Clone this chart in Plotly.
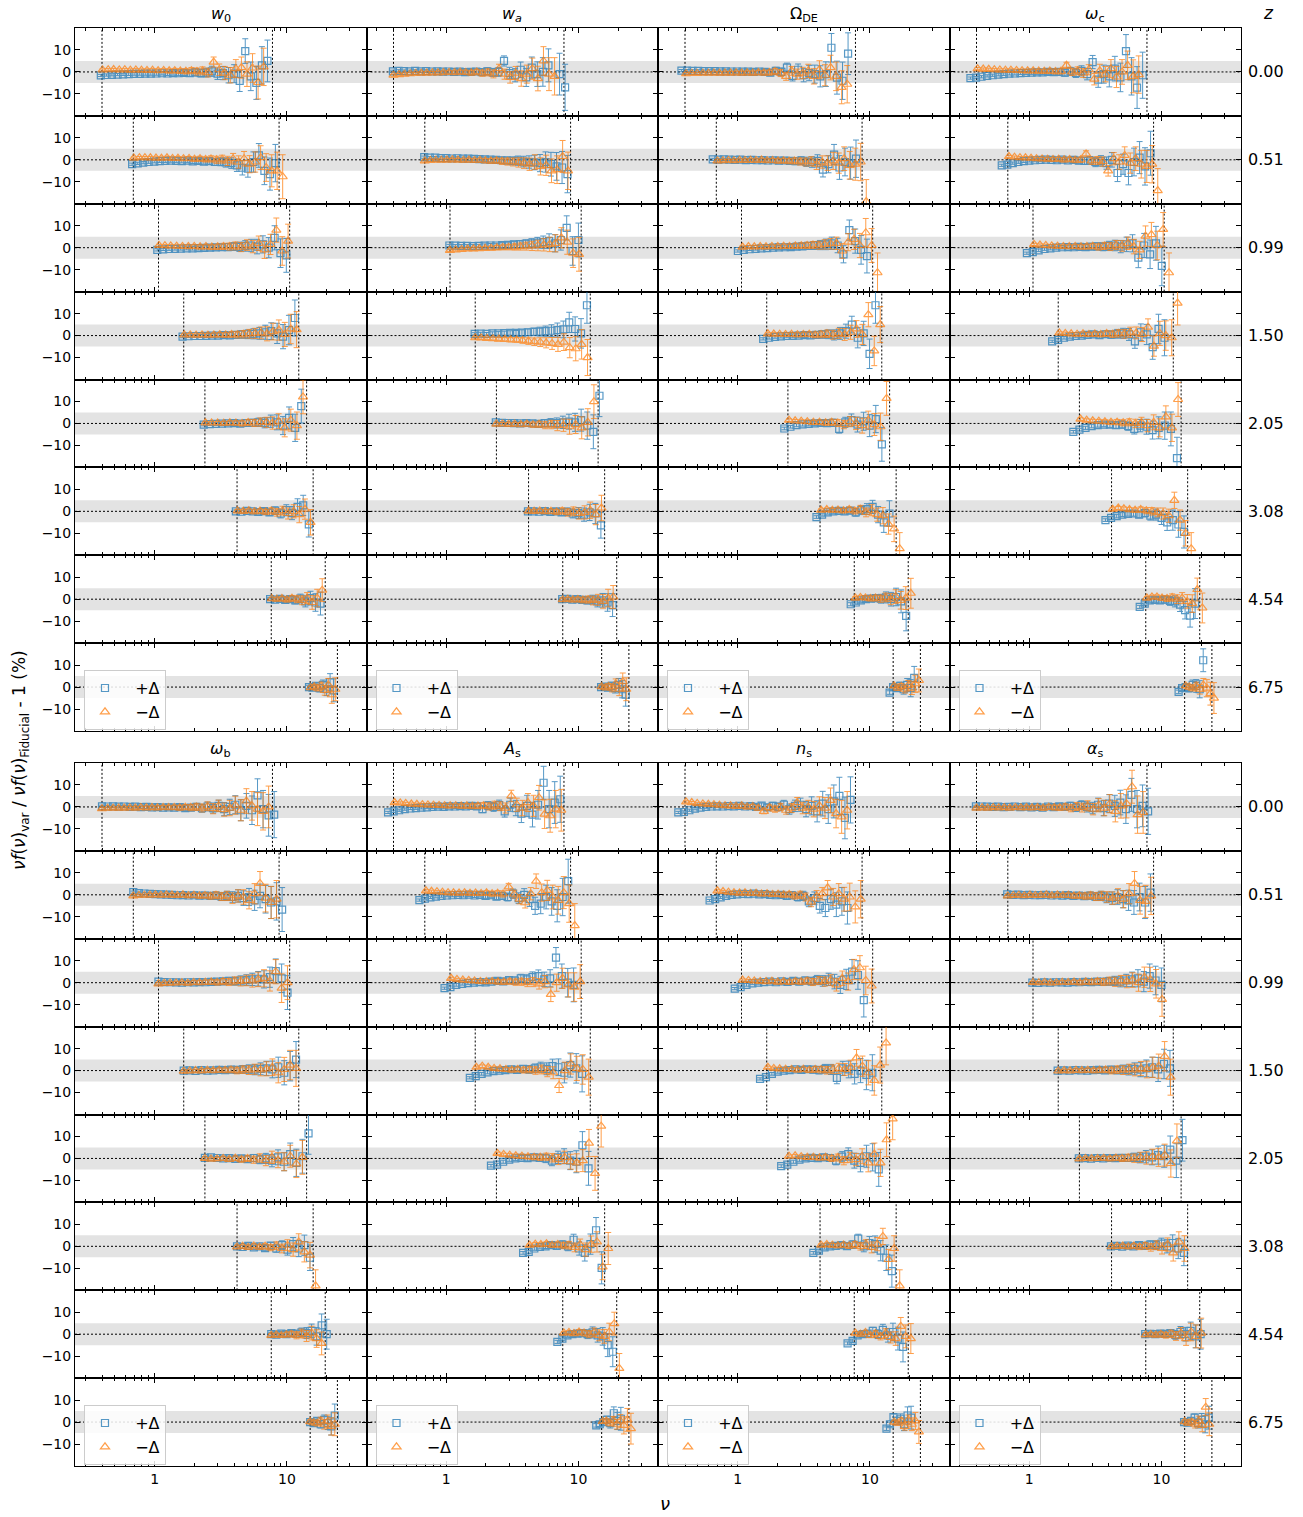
import math
import plotly.graph_objects as go

# ---------------- data ----------------
z_labels = ["0.00", "0.51", "0.99", "1.50", "2.05", "3.08", "4.54", "6.75"]
nu_lo = [0.40, 0.69, 1.07, 1.66, 2.40, 4.20, 7.62, 15.0]
nu_hi = [7.78, 8.73, 10.5, 12.3, 14.1, 15.8, 19.5, 24.1]

nu_r0 = [0.400, 0.441, 0.485, 0.535, 0.589, 0.649, 0.714, 0.787, 0.867, 0.955, 1.052, 1.159, 1.276, 1.406, 1.549, 1.706,
         1.879, 2.070, 2.280, 2.512, 2.767, 3.048, 3.357, 3.698, 4.074, 4.487, 4.943, 5.445, 5.998, 6.607, 7.278, 8.017]
nu_r1 = [0.690, 0.760, 0.836, 0.920, 1.014, 1.115, 1.228, 1.352, 1.486, 1.637, 1.803, 1.982, 2.183, 2.404, 2.642, 2.911,
         3.206, 3.524, 3.882, 4.276, 4.699, 5.176, 5.702, 6.266, 6.902, 7.603, 8.356, 9.204]
nu_r2 = [1.069, 1.184, 1.311, 1.453, 1.608, 1.781, 1.973, 2.185, 2.420, 2.680, 2.969, 3.288, 3.641, 4.033, 4.466, 4.946,
         5.478, 6.067, 6.719, 7.441, 8.241, 9.129, 10.11, 11.20]
nu_r3 = [1.660, 1.840, 2.039, 2.260, 2.505, 2.777, 3.078, 3.411, 3.781, 4.191, 4.645, 5.148, 5.706, 6.325, 7.010, 7.770,
         8.612, 9.548, 10.58, 11.73, 13.00]
nu_r4 = [2.399, 2.668, 2.966, 3.298, 3.668, 4.078, 4.535, 5.043, 5.608, 6.236, 6.934, 7.711, 8.574, 9.535, 10.60, 11.79,
         13.11, 14.58]
nu_r5 = [4.198, 4.628, 5.104, 5.627, 6.203, 6.843, 7.544, 8.318, 9.172, 10.11, 11.15, 12.29, 13.56, 14.95, 16.48]
nu_r6 = [7.621, 8.319, 9.082, 9.915, 10.82, 11.82, 12.90, 14.08, 15.38, 16.79, 18.32, 20.00]
nu_r7 = [15.00, 15.94, 16.95, 18.02, 19.16, 20.37, 21.65, 23.02, 24.48]

err_r0 = [0.5, 0.5, 0.5, 0.5, 0.5, 0.6, 0.6, 0.6, 0.7, 0.7, 0.8, 0.8, 0.9, 1.0, 1.1, 1.2, 1.4, 1.6, 1.8, 2.0, 2.3, 2.6,
          3.0, 3.5, 4.1, 4.8, 5.6, 6.5, 7.5, 8.5, 9.5, 10.5]
err_r1 = [0.5, 0.5, 0.5, 0.6, 0.6, 0.6, 0.7, 0.7, 0.8, 0.8, 0.9, 1.0, 1.1, 1.2, 1.4, 1.6, 1.8, 2.1, 2.4, 2.8, 3.3, 3.9,
          4.6, 5.4, 6.3, 7.3, 8.5, 10.0]
err_r2 = [0.5, 0.5, 0.6, 0.6, 0.7, 0.7, 0.8, 0.9, 1.0, 1.1, 1.2, 1.4, 1.6, 1.8, 2.1, 2.4, 2.8, 3.3, 3.9, 4.6, 5.5, 6.5,
          7.7, 9.0]
err_r3 = [0.5, 0.6, 0.6, 0.7, 0.8, 0.9, 1.0, 1.1, 1.3, 1.5, 1.7, 2.0, 2.3, 2.7, 3.2, 3.8, 4.6, 5.5, 6.7, 8.2, 10.0]
err_r4 = [0.6, 0.6, 0.7, 0.8, 0.9, 1.0, 1.2, 1.4, 1.6, 1.9, 2.3, 2.8, 3.4, 4.1, 5.0, 6.2, 7.7, 9.5]
err_r5 = [0.6, 0.7, 0.8, 0.9, 1.0, 1.2, 1.4, 1.7, 2.0, 2.5, 3.0, 3.7, 4.6, 5.8, 7.3]
err_r6 = [0.7, 0.8, 0.9, 1.1, 1.3, 1.6, 2.0, 2.5, 3.1, 4.0, 5.2, 6.8]
err_r7 = [0.8, 1.0, 1.3, 1.7, 2.2, 2.9, 3.9, 5.2, 7.0]

N = None
w0_plus = [
    [-1.6, -1.4, -1.3, -1.2, -1.1, -1.0, -0.9, -0.9, -0.8, -0.8, -0.7, -0.6, -0.7, -0.5, -0.6, -0.4, -0.6, -0.2, -0.5, -0.3, 0.3, -0.8, -0.5, -1.5, -0.8, -4.1, 9.5, -2.0, -5.0, 3.0, 5.0, N],
    [-2.0, -1.6, -1.3, -1.0, -0.8, -0.6, -0.5, -0.4, -0.5, -0.6, -0.4, -0.7, -0.5, -0.8, -0.6, -1.0, -0.9, -1.2, -1.5, -2.5, -3.6, -4.0, -1.0, 2.0, -5.0, -6.5, -1.5, N],
    [-1.0, -0.8, -0.6, -0.5, -0.4, -0.3, -0.3, -0.2, -0.1, 0.0, 0.1, 0.2, 0.3, 0.5, 0.4, 0.8, 1.0, 0.5, 1.5, 0.0, 4.5, -2.5, -3.5, N],
    [-0.5, -0.3, -0.2, -0.2, -0.1, 0.0, 0.0, 0.2, 0.1, 0.3, 0.5, 0.6, 0.8, 1.0, 1.5, 2.0, 1.0, -0.5, 2.5, 8.0, N],
    [-0.5, -0.3, -0.2, -0.1, 0.0, 0.1, -0.1, 0.2, 0.3, 0.5, 0.3, 1.0, 0.5, -1.0, 2.5, -2.0, 7.9, N],
    [0.0, -0.2, 0.2, 0.0, -0.3, 0.1, -0.5, 0.3, -1.0, 0.5, -0.8, 2.0, 2.7, -5.9, N],
    [0.0, -0.2, 0.1, -0.3, 0.0, -0.5, 0.3, -1.0, 0.5, -1.5, -2.0, N],
    [0.0, -0.3, 0.5, -0.5, 1.0, -1.0, 2.2, -1.5, N],
]
w0_minus = [
    [0.9, 1.0, 1.1, 0.9, 1.0, 0.8, 0.9, 0.8, 0.7, 0.8, 0.6, 0.7, 0.5, 0.6, 0.4, 0.3, 0.6, 0.2, 0.5, -0.3, 4.5, 1.0, -0.5, -1.5, 1.5, 2.0, -1.0, 1.8, -4.8, 2.3, N, N],
    [0.8, 1.0, 1.0, 0.9, 0.8, 0.7, 0.9, 0.6, 0.7, 0.5, 0.6, 0.3, 0.5, 0.2, 0.4, 0.0, 0.3, -0.5, 0.5, -1.0, 0.5, -2.0, -1.0, 1.0, -3.5, -5.0, -5.0, -7.7],
    [1.0, 0.9, 0.8, 0.7, 0.6, 0.5, 0.6, 0.4, 0.5, 0.3, 0.4, 0.6, 0.5, 0.8, 0.3, 1.2, 0.5, 2.0, -1.0, 1.5, 8.0, -1.5, 3.0, N],
    [0.3, 0.3, 0.2, 0.3, 0.2, 0.3, 0.4, 0.3, 0.5, 0.4, 0.6, 0.8, 1.0, 1.2, 0.8, 1.8, 2.5, 0.5, 3.0, 2.7, N],
    [0.3, 0.2, 0.2, 0.1, 0.3, 0.2, 0.0, 0.4, 0.2, 0.6, 0.5, 0.2, 1.0, -2.0, 1.5, -1.0, 12.1, N],
    [0.2, 0.0, 0.3, -0.2, 0.1, -0.3, 0.2, -0.5, 0.3, -1.0, 0.0, -1.5, 1.0, -5.0, N],
    [0.2, 0.0, 0.3, -0.2, 0.4, 0.0, -0.5, 0.5, -1.5, 0.5, 4.1, N],
    [-0.3, 0.2, -0.5, 0.5, -1.5, 1.0, -3.5, -1.0, N],
]
wa_plus = [
    [0.3, 0.5, 0.4, 0.3, 0.5, 0.3, 0.4, 0.2, 0.3, 0.1, 0.2, 0.0, 0.1, -0.1, 0.0, 0.2, -0.1, 0.3, -0.2, 0.0, 5.0, -0.5, -1.5, 1.0, -2.5, 2.0, -1.0, 0.0, 3.0, N, -1.0, -7.0],
    [1.2, 1.0, 1.0, 0.8, 0.8, 0.6, 0.7, 0.5, 0.5, 0.4, 0.3, 0.2, 0.1, 0.0, -0.2, -0.3, -0.5, -0.4, -0.8, -1.0, -1.2, -1.5, -1.0, -2.0, -3.0, -3.5, -6.5, N],
    [1.0, 0.9, 0.8, 0.8, 0.7, 0.8, 0.9, 1.0, 1.0, 1.2, 1.3, 1.5, 1.6, 1.8, 2.0, 2.3, 2.5, 3.0, 2.0, 3.5, 9.0, -1.5, 3.5, N],
    [0.8, 0.9, 0.8, 1.0, 1.0, 1.1, 1.2, 1.2, 1.3, 1.5, 1.7, 1.8, 2.0, 2.2, 2.5, 2.8, 6.0, 3.0, 1.0, 13.8, N],
    [0.5, 0.3, 0.2, 0.1, 0.0, 0.2, 0.0, -0.2, 0.1, 0.3, 0.2, 0.5, 0.8, 0.5, 1.5, -1.0, -3.8, 12.6],
    [0.0, 0.0, -0.2, 0.1, -0.3, 0.0, -0.5, -0.2, -1.0, -0.8, -1.5, -0.5, -1.0, -6.4, N],
    [0.0, 0.1, -0.2, 0.0, -0.3, -0.5, -0.2, -1.0, -0.5, -1.5, -2.7, N],
    [0.0, 0.2, -0.3, 0.5, -0.5, 1.0, -1.0, -3.5, N],
]
wa_minus = [
    [-1.5, -1.2, -1.0, -0.8, -0.7, -0.6, -0.5, -0.4, -0.4, -0.3, -0.2, -0.3, -0.1, -0.2, -0.4, 0.0, -0.6, -0.2, -0.9, 1.5, -1.0, -2.5, -0.5, -3.0, -1.0, 1.5, -3.0, 5.0, -1.0, -2.0, N, N],
    [-0.5, -0.3, -0.2, -0.2, -0.1, 0.0, -0.1, -0.2, -0.1, -0.3, -0.2, -0.4, -0.5, -0.4, -0.7, -0.8, -1.0, -1.2, -1.5, -2.0, -1.0, -3.0, -2.5, -5.0, -4.5, 1.5, -5.0, N],
    [-1.2, -1.0, -0.8, -0.6, -0.5, -0.4, -0.3, -0.2, 0.0, 0.1, 0.2, 0.3, 0.5, 0.7, 0.8, 1.0, 1.3, 1.5, 2.0, 4.5, 2.5, -2.5, -3.0, N],
    [-1.0, -1.1, -1.3, -1.4, -1.6, -1.7, -1.9, -2.0, -2.2, -2.5, -2.8, -3.0, -3.3, -3.6, -4.0, -3.0, -5.5, -6.0, -4.0, -10.0, N],
    [-0.3, -0.2, -0.4, -0.3, -0.5, -0.3, -0.6, -0.4, -0.8, -0.5, -1.0, -0.8, -1.5, -0.5, -2.0, 0.5, 9.9, N],
    [0.1, 0.0, 0.2, -0.1, 0.0, -0.3, 0.2, -0.5, 0.0, -1.0, -0.5, 0.5, -1.5, 1.5, N],
    [-0.2, 0.0, -0.3, -0.1, -0.4, -0.2, -0.6, -0.3, -1.0, 0.5, 1.0, N],
    [0.2, -0.3, 0.3, -0.5, 1.5, -1.0, 2.5, -1.0, N],
]
ode_plus = [
    [0.6, 0.6, 0.5, 0.5, 0.4, 0.4, 0.4, 0.3, 0.3, 0.2, 0.2, 0.1, 0.1, 0.0, 0.2, 0.0, -0.3, 0.5, 0.0, 2.0, -1.8, 1.0, -1.5, -0.5, -1.0, -2.0, -1.0, 11.0, -2.6, -4.0, 8.3, N],
    [0.2, 0.1, 0.2, 0.1, 0.0, 0.1, -0.1, 0.0, -0.2, -0.1, -0.3, -0.2, -0.4, -0.3, -0.5, -0.6, -0.4, -0.9, -1.0, -0.5, -4.5, -2.0, 2.4, -3.5, -1.0, -1.5, 0.5, N],
    [-1.5, -1.0, -0.7, -0.5, -0.3, -0.2, 0.0, 0.1, 0.2, 0.3, 0.5, 0.6, 0.8, 1.0, 1.2, 1.5, 2.0, 1.0, -3.0, 8.0, 3.0, -1.0, -3.8, N],
    [-1.5, -1.0, -0.6, -0.4, -0.2, -0.1, 0.0, 0.2, 0.1, 0.3, 0.5, 0.6, 0.3, 1.0, 2.0, 5.0, -1.0, 1.0, -8.3, 13.8, N],
    [-2.3, -1.5, -0.8, -0.4, -0.2, 0.0, 0.2, 0.1, 0.3, -2.5, 0.5, 1.5, -0.5, 1.0, -1.0, 2.0, -9.5, N],
    [-2.6, -1.5, -0.5, 0.0, 0.2, 0.0, 0.3, -0.5, 0.5, 1.0, 2.0, -1.5, -5.0, -1.0, N],
    [-2.3, -1.5, -0.5, 0.0, 0.3, 0.5, 0.2, 0.8, 0.0, 1.0, -1.0, -7.6],
    [-2.5, 0.0, -0.5, 0.5, -1.0, 1.0, -0.5, 4.2, N],
]
ode_minus = [
    [-0.8, -0.7, -0.7, -0.6, -0.6, -0.5, -0.6, -0.5, -0.5, -0.4, -0.5, -0.4, -0.5, -0.3, -0.4, -0.3, 0.2, -0.5, -2.0, 0.5, -1.0, -0.5, 0.5, -2.0, 1.0, -1.5, 2.0, -2.0, -7.0, -5.6, N, N],
    [-0.5, -0.4, -0.3, -0.4, -0.2, -0.3, -0.2, -0.3, -0.1, -0.4, -0.3, -0.5, -0.4, -0.6, -0.5, -0.8, -1.0, -0.7, -2.0, -1.0, -1.5, -0.5, -1.5, 0.5, -2.5, -2.0, -1.0, -19.0],
    [0.3, 0.5, 0.4, 0.5, 0.4, 0.6, 0.5, 0.7, 0.6, 0.8, 0.9, 1.0, 1.2, 1.1, 1.5, 1.8, 2.0, -1.5, 2.5, 3.8, 1.0, 6.8, 1.0, -11.4],
    [0.8, 0.7, 0.6, 0.5, 0.6, 0.4, 0.5, 0.6, 0.3, 0.5, 0.8, 0.4, 1.0, 0.5, 1.5, 3.0, 0.5, 9.5, -7.0, 5.0, N],
    [1.5, 1.2, 1.0, 0.8, 0.5, 0.6, 0.3, 0.5, 0.2, -0.5, 0.8, 0.0, -1.0, 1.5, -0.5, -1.5, 11.4, N],
    [0.5, 0.8, 0.5, 0.6, 0.3, 0.8, 0.2, 1.0, -0.5, 0.5, -1.5, -2.0, -5.8, -8.0, -17.0],
    [0.5, 0.8, 0.6, 0.3, 0.5, 0.2, 0.8, 0.0, 1.2, -0.5, 0.5, 2.7],
    [0.5, -0.5, 0.3, -1.0, 0.8, -0.5, 1.5, 3.0, N],
]
omc_plus = [
    [-2.8, -2.6, -2.2, -1.8, -1.5, -1.2, -1.0, -0.8, -0.7, -0.5, -0.4, -0.3, -0.2, -0.2, 0.0, -0.1, 0.0, -0.3, 0.3, -0.5, 0.5, -1.0, 4.5, -3.5, -1.0, -2.0, 1.5, -2.5, 9.5, -2.0, -7.1, -1.5],
    [-2.5, -2.2, -1.5, -1.0, -0.6, -0.4, -0.2, 0.0, 0.1, 0.0, -0.2, 0.1, -0.3, 0.0, -0.4, -0.5, -0.3, -1.0, -0.5, -1.5, 0.0, -6.0, -2.0, -6.0, -1.0, 1.0, -3.0, 3.0],
    [-2.5, -2.0, -1.2, -0.6, -0.3, 0.0, 0.2, 0.3, 0.2, 0.4, 0.3, 0.5, 0.6, 0.4, 0.8, 1.0, 0.5, 1.5, 2.0, -4.5, 1.0, -3.0, 2.0, -8.3],
    [-2.6, -2.0, -1.0, -0.5, -0.2, 0.0, 0.3, 0.5, 0.2, 0.6, 0.4, 0.8, 1.0, 0.5, -2.6, 1.5, 0.5, -5.3, 3.0, -1.0, N],
    [-3.8, -2.8, -2.0, -1.2, -0.8, -0.5, -0.6, -0.8, -0.5, -1.2, -2.5, -1.0, -1.5, -3.0, -2.0, -1.0, -2.5, -15.8],
    [-4.0, -3.0, -2.2, -1.5, -1.2, -1.0, -1.5, -0.8, -2.0, -1.5, -3.0, -5.0, -4.0, -6.0, -9.4],
    [-3.5, -2.0, -0.5, -0.3, -0.5, -0.2, -0.8, -1.0, -2.5, -5.0, -7.5, -2.0],
    [-2.2, -0.5, 0.0, -0.5, 1.0, 0.5, -1.0, 12.2, N],
]
omc_minus = [
    [1.5, 1.3, 1.2, 1.0, 0.9, 0.8, 0.8, 0.7, 0.6, 0.5, 0.5, 0.4, 0.3, 0.4, 0.2, 0.3, 3.0, 0.0, 0.5, -0.5, 1.0, -3.3, 0.5, -1.0, 1.5, -2.3, 0.0, 3.0, -2.0, -1.2, N, N],
    [1.5, 1.2, 1.0, 0.9, 0.7, 0.5, 0.4, 0.3, 0.2, 0.3, 0.0, 0.2, -0.2, 0.0, 2.7, -0.5, -0.3, -0.8, -5.0, 0.5, -1.0, 2.0, -1.5, 0.5, -2.0, -3.0, -2.0, -14.0],
    [1.5, 1.2, 1.0, 0.8, 0.7, 0.6, 0.5, 0.6, 0.4, 0.5, 0.7, 0.3, 0.8, 0.5, 1.2, 0.8, 2.0, 0.5, -1.0, 5.3, 6.0, 1.0, 8.3, -11.4],
    [1.2, 1.0, 0.8, 0.6, 0.8, 0.5, 0.7, 0.5, 0.9, 0.6, 1.0, 0.8, 1.5, 1.2, 0.5, 3.8, -4.8, 1.0, 0.0, -1.0, 14.8],
    [2.0, 1.5, 1.2, 1.0, 0.8, 0.5, 0.6, 0.3, 0.5, 0.0, 0.5, -1.0, 0.5, -2.0, 3.0, -2.0, 10.9, N],
    [1.0, 1.5, 1.2, 0.8, 0.5, 0.8, 0.3, 0.0, -0.5, -1.0, -2.0, 5.0, -4.0, -10.0, -17.0],
    [0.5, 1.0, 1.0, 0.5, 0.3, 0.8, 0.0, 0.5, -1.0, -2.0, 4.4, -4.0],
    [0.5, 0.0, -0.5, 0.5, -1.0, 1.0, -0.5, -3.0, -5.0],
]
omb_plus = [
    [0.3, 0.2, 0.3, 0.1, 0.2, 0.0, 0.1, -0.1, 0.0, -0.2, -0.1, -0.3, -0.2, -0.3, -0.1, -0.5, -0.3, 0.0, -0.6, 0.2, -0.5, 0.5, -1.0, 0.0, 1.0, -1.5, 0.5, -1.5, 5.3, -1.0, -3.8, -3.5],
    [1.2, 0.8, 0.6, 0.4, 0.3, 0.2, 0.1, 0.0, -0.2, -0.1, -0.3, -0.2, -0.4, -0.3, -0.5, -0.4, -0.8, -0.5, -1.0, -0.5, -1.5, -1.0, -2.5, -0.5, -2.0, -3.5, -3.0, -6.7],
    [0.5, 0.3, 0.2, 0.1, 0.0, 0.2, 0.1, 0.3, 0.2, 0.4, 0.5, 0.6, 0.8, 0.7, 1.0, 1.2, 1.5, 1.8, 1.5, 2.5, 5.3, 2.0, -4.5, N],
    [0.0, 0.1, -0.1, 0.2, 0.0, 0.1, 0.3, 0.2, 0.4, 0.3, 0.5, 0.6, 0.4, 0.8, 1.0, 0.5, 1.5, -1.0, 2.0, 5.0, N],
    [0.3, 0.5, 0.2, 0.0, 0.1, -0.2, 0.0, -0.3, 0.2, -0.5, 0.0, -1.0, 0.5, -1.5, 2.0, -2.0, 1.0, 11.4],
    [0.0, -0.3, 0.2, -0.5, 0.0, -0.8, 0.3, -1.0, 0.5, -1.5, 1.0, -1.0, 0.5, -5.2, N],
    [0.0, -0.2, 0.3, 0.0, 0.5, 0.2, 0.8, 0.5, 1.5, -1.0, 4.0, 0.0],
    [0.0, -0.5, 0.5, -1.0, 1.0, -0.5, -2.0, 3.0, N],
]
omb_minus = [
    [-0.8, -0.6, -0.6, -0.5, -0.5, -0.4, -0.5, -0.3, -0.4, -0.3, -0.4, -0.2, -0.3, -0.2, -0.4, -0.1, -0.3, 0.0, -0.5, 0.3, -0.8, 0.5, -1.2, -0.5, 0.8, -1.5, 2.7, 0.5, -1.0, -2.0, 0.0, N],
    [-0.5, -0.3, -0.2, -0.1, 0.0, -0.2, 0.0, -0.1, -0.3, 0.0, -0.4, -0.2, -0.5, -0.3, -0.6, -0.2, -0.8, -0.5, -1.5, -0.5, -1.0, -2.5, 0.5, 5.2, -1.5, -3.5, -2.0, N],
    [-0.5, -0.3, -0.2, -0.1, 0.0, -0.2, 0.1, 0.0, 0.2, 0.3, 0.1, 0.5, 0.3, 0.8, 0.6, 1.0, 0.8, 1.5, 2.0, 0.8, 5.0, -2.5, 0.0, N],
    [-0.3, -0.2, 0.0, -0.1, 0.1, 0.0, 0.2, 0.1, 0.3, 0.0, 0.4, 0.2, 0.6, 0.3, 0.8, 1.5, -1.0, 0.5, 2.5, 1.0, N],
    [0.0, -0.3, -0.2, 0.0, -0.4, 0.1, -0.5, 0.0, -0.6, 0.2, -1.0, 0.5, -0.8, -1.5, 1.0, -2.5, 0.5, N],
    [-0.3, 0.0, -0.5, 0.2, -0.4, 0.0, -0.6, 0.3, -1.0, 0.5, -1.5, 2.0, -2.5, -4.0, -18.0],
    [-0.5, -0.3, -0.6, -0.2, 0.0, -0.5, 0.3, -0.8, 0.5, -2.0, -4.2, N],
    [0.2, -0.3, -0.5, 0.5, -1.0, 0.3, -2.0, -1.0, N],
]
As_plus = [
    [-2.5, -2.0, -1.5, -1.0, -0.7, -0.5, -0.3, -0.2, 0.0, 0.1, 0.0, 0.3, 0.2, 0.4, 0.2, 0.5, 0.3, -1.0, 0.6, 0.0, 0.8, -2.0, 1.0, -0.5, -3.0, 0.5, -3.5, 1.0, 11.0, -1.0, 2.0, 3.5],
    [-2.4, -1.8, -1.2, -0.8, -0.5, -0.3, -0.2, 0.0, -0.2, 0.1, -0.3, 0.0, -0.5, -0.2, -0.8, -0.5, -1.0, 0.5, -1.5, 0.0, -2.0, -5.0, -4.0, -1.0, -3.0, -5.0, -1.0, 6.2],
    [-2.5, -2.0, -1.0, -0.5, -0.2, 0.0, 0.3, 0.1, 0.5, 0.8, 0.6, 1.2, 1.0, 2.0, 1.5, 2.5, 3.0, 1.5, 2.0, 11.4, 3.0, 0.0, -1.0, N],
    [-3.3, -2.5, -1.5, -0.8, -0.3, 0.0, 0.2, 0.5, 0.3, 0.8, 0.5, 1.0, 1.5, 0.8, 2.0, 1.5, -1.0, 2.5, 1.0, -1.5, N],
    [-3.3, -2.8, -1.5, -0.5, 0.0, 0.3, 0.1, 0.5, 0.3, 0.0, -1.0, 0.5, 1.0, -1.0, -1.5, 6.0, -4.5, N],
    [-3.0, -2.5, -1.0, -0.3, 0.0, 0.5, 0.2, 0.8, 0.0, 3.0, -1.0, -3.0, 1.0, 7.3, -9.8],
    [-3.5, -2.0, -0.5, 0.0, 0.3, 0.5, 0.0, 0.8, -0.5, -1.0, -5.0, -8.0],
    [-1.5, -1.0, 0.0, 1.0, -0.5, 4.0, 0.5, 1.5, N],
]
As_minus = [
    [2.0, 1.8, 1.6, 1.3, 1.2, 1.0, 0.9, 0.8, 0.7, 0.6, 0.5, 0.6, 0.4, 0.5, 0.3, 0.4, 0.6, 0.2, 0.8, 0.3, -0.5, 5.0, 1.0, -0.5, 2.0, 0.5, 4.2, -3.3, -4.0, -1.0, -1.5, N],
    [1.8, 1.6, 1.4, 1.2, 1.0, 0.9, 0.8, 1.0, 0.7, 0.8, 0.6, 0.9, 0.5, 0.7, 0.4, 3.6, 0.3, -2.0, -3.6, 0.5, 6.2, 1.0, 2.0, -1.0, -2.5, 1.0, -4.0, -14.0],
    [2.0, 1.5, 1.2, 1.0, 0.8, 0.6, 0.5, 0.6, 0.4, 0.3, 0.5, 0.2, 0.4, 0.0, 0.3, -0.5, 0.5, -5.3, 0.0, 2.0, -1.0, -2.0, 0.5, N],
    [1.5, 2.0, 1.5, 1.0, 0.8, 0.5, 0.3, 0.5, 0.2, 0.4, 0.0, 0.5, -0.5, -1.0, -6.8, 0.0, 3.0, 1.0, 0.5, -3.0, N],
    [2.3, 1.8, 1.5, 1.2, 1.0, 0.8, 0.6, 0.5, 0.8, 0.3, -0.5, 0.5, -1.5, -2.0, -1.0, 7.0, -6.8, 14.7],
    [0.5, 1.0, 0.8, 1.2, 0.5, 0.8, 0.3, 0.5, -0.5, 0.8, -1.5, 1.0, 2.0, -9.4, -1.0],
    [0.5, 0.8, 0.3, 1.0, 0.5, 0.0, 0.8, -0.5, -1.0, 1.0, 4.8, -15.6],
    [0.3, 0.5, -0.5, 0.8, -1.0, 0.5, -1.5, 1.0, -3.0],
]
ns_plus = [
    [-2.5, -2.3, -1.5, -0.8, -0.3, 0.0, 0.2, 0.3, 0.2, 0.4, 0.3, 0.5, 0.2, 0.4, 0.0, 0.6, -0.2, 0.5, 0.0, 1.0, -1.0, 0.5, 1.0, -1.0, 0.5, -2.0, 1.5, -1.0, 2.5, 5.0, -5.0, 3.2],
    [-2.6, -2.0, -1.2, -0.5, 0.0, 0.2, 0.4, 0.3, 0.5, 0.2, 0.3, 0.0, -0.2, 0.0, -0.5, -0.2, -1.0, -0.5, -3.0, -1.5, -5.0, -6.0, -2.0, -4.5, -3.0, -6.0, N, N],
    [-2.7, -2.0, -1.0, -0.3, 0.0, 0.3, 0.5, 0.2, 0.6, 0.4, 0.8, 0.5, 1.0, 0.7, 1.2, 0.8, 1.5, 0.5, -1.0, 1.5, 5.0, 3.5, -7.9, N],
    [-3.8, -3.0, -1.5, -0.5, 0.0, 0.2, 0.5, 0.3, 0.6, 0.4, 0.2, 0.8, 0.5, -3.3, 1.0, 0.5, -1.5, 0.0, -2.0, -1.0, N],
    [-3.5, -2.8, -1.5, -0.5, 0.0, 0.3, 0.1, 0.5, 0.2, -1.0, 0.8, 2.0, -1.0, -2.0, 1.0, 0.5, -5.0, N],
    [-3.0, -2.0, -0.5, 0.0, 0.2, 0.5, 0.1, 0.8, 3.5, 0.0, 1.5, 1.0, -2.0, -5.2, -11.3],
    [-4.2, -3.0, -0.5, 0.0, 0.3, 1.5, 0.0, 2.0, -0.5, 1.0, -2.0, -5.8],
    [-3.0, -1.0, 2.3, 0.5, 1.5, -1.0, 3.0, 2.0, N],
]
ns_minus = [
    [2.3, 2.0, 1.6, 1.4, 1.2, 1.0, 0.8, 0.6, 0.5, 0.3, 0.5, 0.0, 0.2, -0.5, -2.0, -0.3, -1.0, 0.0, -1.5, -0.5, 2.0, -0.5, 0.0, -1.0, 0.5, -0.5, 3.0, -3.0, -4.5, -1.5, N, N],
    [1.8, 1.5, 1.2, 1.0, 0.8, 0.9, 0.6, 0.7, 0.4, 0.5, 0.2, 0.3, 0.0, 0.2, -0.5, 0.0, -1.0, -3.3, -0.5, 0.5, 3.2, -1.0, 0.5, -2.0, -1.0, -5.5, -2.0, N],
    [1.2, 1.0, 0.8, 0.6, 0.5, 0.7, 0.3, 0.5, 0.2, 0.6, 0.4, 0.8, 0.3, 1.0, 0.5, 1.2, -1.0, 2.0, 0.5, 6.0, 6.8, 1.0, -1.5, N],
    [1.5, 1.0, 0.8, 0.6, 0.5, 0.3, 0.6, 0.2, 0.5, 0.4, 0.1, 0.6, 1.0, 0.5, 1.5, 5.8, 2.0, -1.0, -4.5, 2.5, 12.6],
    [1.0, 1.2, 0.8, 0.5, 0.6, 0.3, 0.5, 0.0, 0.4, -1.0, 0.5, -0.5, 1.0, -2.0, 2.0, -2.0, 8.5, 18.0],
    [0.5, 0.8, 0.5, 0.3, 0.6, 0.2, 0.8, 0.0, 1.0, -0.5, 1.0, 4.5, -6.0, -1.0, -18.0],
    [0.5, 0.0, 0.8, -0.5, 0.3, -1.0, 0.5, -1.5, -2.0, 3.6, -1.0, -2.0],
    [0.0, -0.5, 0.5, -2.0, 1.0, -1.0, 0.5, -4.5, N],
]
alphas_plus = [
    [0.3, 0.2, 0.1, 0.0, 0.1, -0.1, 0.0, 0.2, -0.1, 0.1, -0.2, 0.0, -0.3, 0.2, -0.1, 0.3, 0.0, 0.5, -0.3, 0.8, 0.0, -0.5, 1.0, -0.5, 1.5, 0.5, 2.0, -1.0, 5.5, -1.0, 0.5, -2.0],
    [0.2, 0.0, 0.1, -0.1, 0.0, -0.2, -0.1, 0.0, -0.3, -0.2, -0.4, -0.1, -0.5, -0.3, -0.6, -0.4, -0.8, -0.5, -1.2, -1.5, -1.0, -2.0, -2.5, -3.5, -1.0, -3.5, 1.0, N],
    [0.0, -0.1, 0.1, 0.0, 0.2, 0.1, 0.0, 0.3, 0.2, 0.4, 0.3, 0.5, 0.4, 0.6, 0.8, 0.5, 1.0, 1.5, 2.0, 0.5, 3.0, 1.0, -1.0, N],
    [0.0, 0.1, 0.0, 0.2, 0.1, 0.0, 0.2, 0.3, 0.1, 0.4, 0.2, 0.5, 0.3, 0.8, 0.4, 1.0, 1.5, 0.5, 3.0, 1.0, N],
    [0.0, 0.1, -0.1, 0.2, 0.0, 0.2, 0.1, 0.3, 0.2, 0.5, 0.3, 0.8, 0.5, 1.5, 1.0, 4.0, -1.0, 8.3],
    [0.0, 0.2, -0.1, 0.3, 0.0, 0.5, 0.2, 0.8, 0.5, 1.2, 0.0, 1.5, -1.0, -3.0, N],
    [0.0, 0.2, 0.0, 0.3, 0.1, 0.5, -0.3, 1.0, 0.0, 1.5, -1.0, 0.0],
    [0.0, -0.3, 0.5, 2.0, -0.5, 1.0, -1.0, 2.0, N],
]
alphas_minus = [
    [-0.5, -0.4, -0.5, -0.3, -0.4, -0.3, -0.5, -0.2, -0.4, -0.3, -0.4, -0.2, -0.5, -0.1, -0.3, -0.4, 0.0, -0.6, 0.2, -0.3, 0.5, -1.0, 0.8, -0.5, 1.5, -2.0, 0.5, 1.5, 9.2, -3.5, -2.5, N],
    [-0.5, -0.3, -0.2, -0.4, -0.1, -0.3, -0.2, 0.0, -0.4, -0.1, -0.3, -0.2, -0.5, -0.4, -0.6, -0.3, -0.8, -0.5, -1.0, -1.5, -0.5, -2.0, 0.5, 5.2, -2.5, -3.0, -0.5, N],
    [0.1, 0.0, 0.2, -0.1, 0.0, 0.2, 0.1, 0.3, 0.0, 0.4, 0.2, 0.5, 0.3, 0.7, 0.4, 0.9, 0.5, 1.2, 0.0, 2.5, 1.5, -0.5, -7.6, N],
    [-0.2, 0.0, -0.1, 0.1, 0.0, 0.2, 0.0, 0.1, 0.3, 0.0, 0.4, 0.2, 0.6, 0.3, 0.9, 0.5, 1.5, 2.0, 6.5, -3.0, N],
    [-0.2, 0.0, -0.1, 0.0, 0.1, -0.1, 0.2, 0.0, 0.3, 0.1, 0.5, 0.2, 0.8, 0.5, 1.5, -2.3, 8.0, N],
    [-0.2, 0.0, 0.1, -0.2, 0.2, -0.3, 0.3, -0.5, 0.5, -1.0, 0.8, -3.0, 2.0, -1.0, N],
    [-0.3, -0.1, -0.4, 0.0, -0.5, 0.2, -0.8, 0.5, -2.0, 1.0, -1.0, 0.5],
    [0.2, -0.5, 0.0, -1.0, 0.5, -1.5, 6.8, -1.0, N],
]

# shift of the varied-cosmology nu relative to the fiducial bins (+Delta, -Delta)
shift_plus = [0.98, 0.99, 0.94, 0.90, 1.00, 0.91, 0.89, 0.99]
shift_minus = [1.01, 1.00, 1.02, 1.02, 1.00, 1.02, 1.02, 1.00]

param_titles = ["<i>w</i><sub>0</sub>", "<i>w</i><sub><i>a</i></sub>", "Ω<sub>DE</sub>", "<i>ω</i><sub>c</sub>",
                "<i>ω</i><sub>b</sub>", "<i>A</i><sub>s</sub>", "<i>n</i><sub>s</sub>", "<i>α</i><sub>s</sub>"]
plus_sets = [w0_plus, wa_plus, ode_plus, omc_plus, omb_plus, As_plus, ns_plus, alphas_plus]
minus_sets = [w0_minus, wa_minus, ode_minus, omc_minus, omb_minus, As_minus, ns_minus, alphas_minus]
nu_rows = [nu_r0, nu_r1, nu_r2, nu_r3, nu_r4, nu_r5, nu_r6, nu_r7]
err_rows = [err_r0, err_r1, err_r2, err_r3, err_r4, err_r5, err_r6, err_r7]

# ---------------- layout geometry ----------------
W, H = 1303, 1517
X0, X1, Y0, Y1 = 75, 1241, 28, 1466          # plot area in pixels
ML, MT, MR, MB = X0, Y0, W - X1, H - Y1
PW, PH = X1 - X0, Y1 - Y0
COLW = PW / 4.0
ROWH = 87.875
BLOCK_TOP = [28, 763]
FONT = "DejaVu Sans"
BLUE = "#1f77b4"
ORANGE = "#ff7f0e"
NBSP = "\u00a0"


def xp(px):
    return (px - X0) / PW


def yp(py):
    return 1 - (py - Y0) / PH


def fit(vals, n):
    vals = list(vals)[:n]
    return vals + [None] * (n - len(vals))


minor_vals = [0.3, 0.4, 0.5, 0.6, 0.7, 0.8, 0.9, 2, 3, 4, 5, 6, 7, 8, 9, 20, 30, 40]

fig = go.Figure()
layout = {}
shapes = []
annotations = []
k = 0
for b in range(2):
    for c in range(4):
        pi = b * 4 + c
        legname = "legend" if pi == 0 else f"legend{pi + 1}"
        for r in range(8):
            k += 1
            xa = "x" if k == 1 else f"x{k}"
            ya = "y" if k == 1 else f"y{k}"
            xkey = "xaxis" if k == 1 else f"xaxis{k}"
            ykey = "yaxis" if k == 1 else f"yaxis{k}"
            top = BLOCK_TOP[b] + r * ROWH
            bot = top + ROWH
            layout[xkey] = dict(
                domain=[xp(X0 + c * COLW), xp(X0 + (c + 1) * COLW)], anchor=ya, type="log",
                range=[math.log10(0.25), math.log10(40)], showline=True, linecolor="black", linewidth=1,
                mirror="allticks", ticks="inside", ticklen=5, tickwidth=1, tickcolor="black",
                tickvals=[1, 10], ticktext=["1", "10"], showticklabels=(b == 1 and r == 7),
                tickfont=dict(size=14, color="black", family=FONT), showgrid=False, zeroline=False,
                minor=dict(ticks="inside", ticklen=3, tickwidth=1, tickcolor="black", tickvals=minor_vals,
                           showgrid=False),
            )
            layout[ykey] = dict(
                domain=[yp(bot), yp(top)], anchor=xa, range=[-20, 20], showline=True, linecolor="black",
                linewidth=1, mirror="allticks", ticks="inside", ticklen=5, tickwidth=1, tickcolor="black",
                tickvals=[-10, 0, 10], ticktext=["\u221210", "0", "10"], showticklabels=(c == 0),
                tickfont=dict(size=14, color="black", family=FONT), showgrid=False, zeroline=False,
            )
            # background band and reference lines
            shapes.append(dict(type="rect", xref=f"{xa} domain", yref=ya, x0=0, x1=1, y0=-5, y1=5,
                               fillcolor="#e3e3e3", line=dict(width=0), layer="below"))
            shapes.append(dict(type="line", xref=f"{xa} domain", yref=ya, x0=0, x1=1, y0=0, y1=0,
                               line=dict(color="black", width=1, dash="2px,2px"), layer="below"))
            for v in (nu_lo[r], nu_hi[r]):
                shapes.append(dict(type="line", xref=xa, yref=f"{ya} domain", x0=v, x1=v, y0=0, y1=1,
                                   line=dict(color="black", width=1, dash="2px,2px"), layer="below"))

            grid = nu_rows[r]
            n = len(grid)
            err = err_rows[r]
            yplus = fit(plus_sets[pi][r], n)
            yminus = fit(minus_sets[pi][r], n)
            show = (r == 7)
            fig.add_trace(go.Scatter(
                x=[g * shift_plus[pi] for g in grid], y=yplus, mode="markers",
                name=NBSP * 2 + "+Δ", legendgroup=f"p{k}",
                xaxis=xa, yaxis=ya, opacity=0.75, showlegend=show, legend=legname,
                marker=dict(symbol="square-open", size=7, color=BLUE, line=dict(width=1.2, color=BLUE)),
                error_y=dict(type="data", array=err, visible=True, color=BLUE, thickness=1, width=3),
                cliponaxis=True,
            ))
            fig.add_trace(go.Scatter(
                x=[g * shift_minus[pi] for g in grid], y=yminus, mode="markers",
                name=NBSP * 2 + "\u2212Δ", legendgroup=f"m{k}",
                xaxis=xa, yaxis=ya, opacity=0.75, showlegend=show, legend=legname,
                marker=dict(symbol="triangle-up-open", size=8, color=ORANGE, line=dict(width=1.2, color=ORANGE)),
                error_y=dict(type="data", array=err, visible=True, color=ORANGE, thickness=1, width=3),
                cliponaxis=True,
            ))
        # column title
        annotations.append(dict(text=param_titles[pi], xref="paper", yref="paper",
                                x=xp(X0 + (c + 0.5) * COLW), y=yp(BLOCK_TOP[b] - 14), xanchor="center",
                                yanchor="middle", showarrow=False,
                                font=dict(size=16, color="black", family=FONT)))
        # legend placed in the bottom panel of each block
        leg_top = BLOCK_TOP[b] + 7 * ROWH + 27
        layout[legname] = dict(x=xp(X0 + c * COLW + 9), y=yp(leg_top), xanchor="left", yanchor="top",
                               bgcolor="rgba(255,255,255,0.85)", bordercolor="#cccccc", borderwidth=1,
                               font=dict(size=16, color="black", family=FONT), itemwidth=30,
                               traceorder="grouped", tracegroupgap=0)

# redshift labels on the right
for b in range(2):
    for r in range(8):
        cy = BLOCK_TOP[b] + (r + 0.5) * ROWH
        annotations.append(dict(text=z_labels[r], xref="paper", yref="paper", x=xp(1266), y=yp(cy),
                                xanchor="center", yanchor="middle", showarrow=False,
                                font=dict(size=16, color="black", family=FONT)))
annotations.append(dict(text="<i>z</i>", xref="paper", yref="paper", x=xp(1268), y=yp(13), xanchor="center",
                        yanchor="middle", showarrow=False, font=dict(size=17, color="black", family=FONT)))
annotations.append(dict(text="<i>ν</i>", xref="paper", yref="paper", x=xp(665), y=yp(1503), xanchor="center",
                        yanchor="middle", showarrow=False, font=dict(size=18, color="black", family=FONT)))
annotations.append(dict(
    text="<i>νf</i>(<i>ν</i>)<sub>var</sub> / <i>νf</i>(<i>ν</i>)<sub>Fiducial</sub> - 1 (%)",
    xref="paper", yref="paper", x=xp(20), y=yp(760), xanchor="center", yanchor="middle", textangle=-90,
    showarrow=False, font=dict(size=17, color="black", family=FONT)))

fig.update_layout(layout)
fig.update_layout(
    width=W, height=H, margin=dict(l=ML, r=MR, t=MT, b=MB), paper_bgcolor="white", plot_bgcolor="white",
    shapes=shapes, annotations=annotations, font=dict(family=FONT, color="black"),
)
# remove the default page margin so the figure sits at the window origin; hide the mode bar
fig.write_html("out.html", config={"displayModeBar": False},
               post_script="document.body.style.margin='0px';")
